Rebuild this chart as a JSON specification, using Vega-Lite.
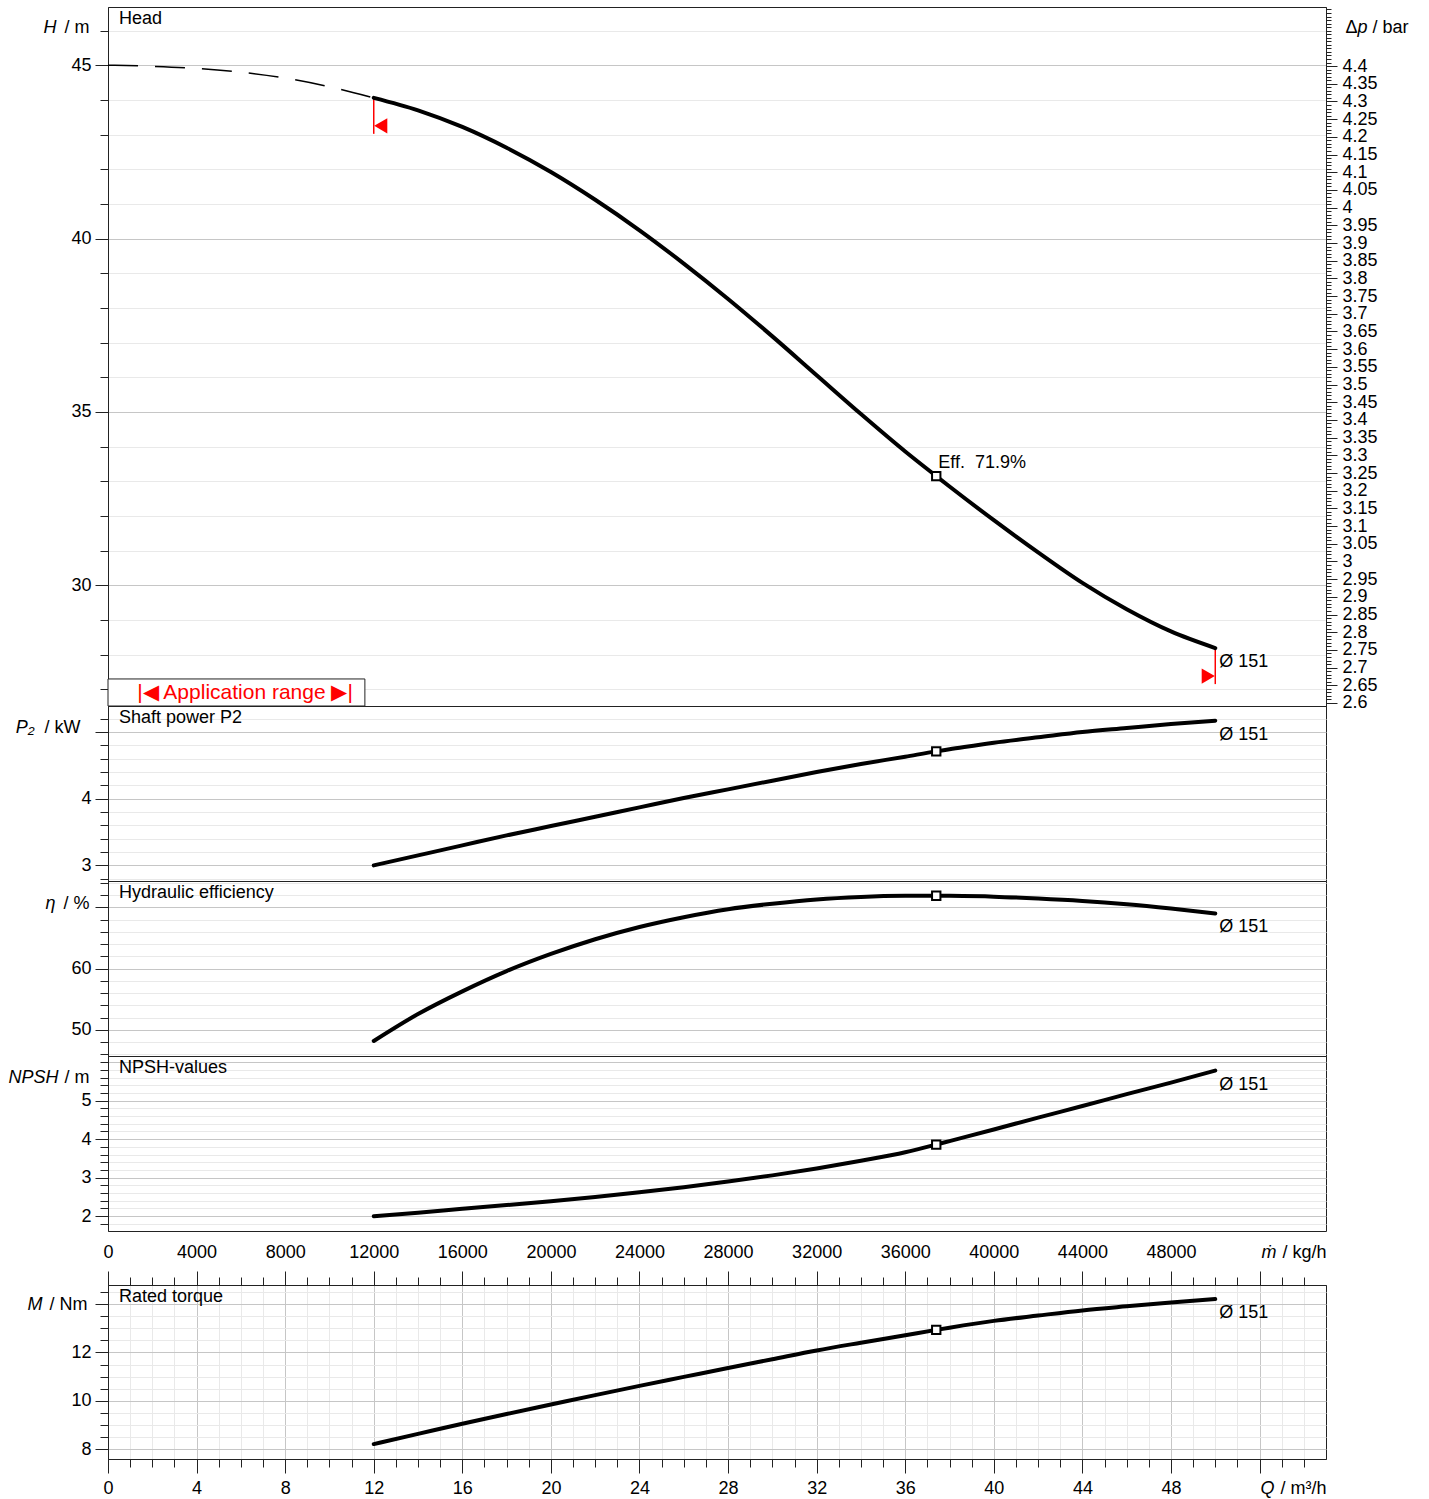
{
  "$schema": "https://vega.github.io/schema/vega-lite/v6.json",
  "background": "#ffffff",
  "padding": {"left": 7, "top": 6, "right": 5, "bottom": 0},
  "autosize": {"type": "pad"},
  "datasets": {
    "ext": [
      {"Q": 0, "H": 45.0}, {"Q": 2, "H": 44.97}, {"Q": 4, "H": 44.91}, {"Q": 6, "H": 44.8},
      {"Q": 8, "H": 44.63}, {"Q": 10, "H": 44.38}, {"Q": 12, "H": 44.06}
    ],
    "curve": [
      {"Q": 12, "H": 44.06, "P2": 3.0, "eta": 48.2, "NPSH": 2.0, "M": 8.22},
      {"Q": 14, "H": 43.7, "P2": 3.15, "eta": 52.6, "NPSH": 2.09, "M": 8.64},
      {"Q": 16, "H": 43.22, "P2": 3.3, "eta": 56.3, "NPSH": 2.19, "M": 9.06},
      {"Q": 18, "H": 42.62, "P2": 3.45, "eta": 59.6, "NPSH": 2.29, "M": 9.46},
      {"Q": 20, "H": 41.92, "P2": 3.59, "eta": 62.4, "NPSH": 2.39, "M": 9.85},
      {"Q": 22, "H": 41.12, "P2": 3.73, "eta": 64.8, "NPSH": 2.5, "M": 10.24},
      {"Q": 24, "H": 40.24, "P2": 3.87, "eta": 66.8, "NPSH": 2.62, "M": 10.62},
      {"Q": 26, "H": 39.28, "P2": 4.01, "eta": 68.4, "NPSH": 2.75, "M": 10.99},
      {"Q": 28, "H": 38.26, "P2": 4.14, "eta": 69.7, "NPSH": 2.9, "M": 11.36},
      {"Q": 30, "H": 37.18, "P2": 4.27, "eta": 70.6, "NPSH": 3.06, "M": 11.72},
      {"Q": 32, "H": 36.06, "P2": 4.4, "eta": 71.3, "NPSH": 3.24, "M": 12.08},
      {"Q": 34, "H": 34.94, "P2": 4.52, "eta": 71.7, "NPSH": 3.44, "M": 12.4},
      {"Q": 36, "H": 33.86, "P2": 4.63, "eta": 71.88, "NPSH": 3.66, "M": 12.71},
      {"Q": 37.4, "H": 33.15, "P2": 4.71, "eta": 71.9, "NPSH": 3.86, "M": 12.93},
      {"Q": 38, "H": 32.85, "P2": 4.74, "eta": 71.88, "NPSH": 3.95, "M": 13.02},
      {"Q": 40, "H": 31.88, "P2": 4.84, "eta": 71.75, "NPSH": 4.25, "M": 13.3},
      {"Q": 42, "H": 30.95, "P2": 4.92, "eta": 71.45, "NPSH": 4.56, "M": 13.52},
      {"Q": 44, "H": 30.07, "P2": 5.0, "eta": 71.05, "NPSH": 4.86, "M": 13.73},
      {"Q": 46, "H": 29.31, "P2": 5.06, "eta": 70.5, "NPSH": 5.17, "M": 13.9},
      {"Q": 48, "H": 28.67, "P2": 5.12, "eta": 69.8, "NPSH": 5.47, "M": 14.06},
      {"Q": 50, "H": 28.19, "P2": 5.17, "eta": 69.0, "NPSH": 5.78, "M": 14.2}
    ],
    "bep": [
      {"Q": 37.4, "H": 33.15, "P2": 4.71, "eta": 71.9, "NPSH": 3.86, "M": 12.93}
    ]
  },
  "spacing": 0,
  "bounds": "flush",
  "vconcat": [
    {
      "width": 1218,
      "height": 699,
      "layer": [
        {
          "layer": [
            {
              "data": {"name": "ext"},
              "mark": {"type": "line", "color": "#000", "strokeWidth": 1.5, "strokeDash": [30, 17], "interpolate": "monotone"},
              "encoding": {
                "x": {"field": "Q", "type": "quantitative", "scale": {"domain": [0, 55], "nice": false, "zero": false},
                  "axis": {"values": [1,2,3,4,5,6,7,8,9,10,11,12,13,14,15,16,17,18,19,20,21,22,23,24,25,26,27,28,29,30,31,32,33,34,35,36,37,38,39,40,41,42,43,44,45,46,47,48,49,50,51,52,53,54],
                    "grid": true, "gridColor": {"condition": {"test": "datum.value % 4 == 0", "value": "#c6c6c6"}, "value": "#e9e9e9"},
                    "ticks": false, "labels": false, "domain": false, "title": null}},
                "y": {"field": "H", "type": "quantitative", "scale": {"domain": [26.52, 46.68], "nice": false, "zero": false},
                  "axis": {"orient": "left", "values": [27,28,29,30,31,32,33,34,35,36,37,38,39,40,41,42,43,44,45,46],
                    "grid": true, "gridColor": {"condition": {"test": "datum.value % 5 == 0", "value": "#c6c6c6"}, "value": "#e9e9e9"},
                    "tickSize": {"condition": {"test": "datum.value % 5 == 0", "value": 13}, "value": 8},
                    "labelExpr": "datum.value % 5 == 0 ? datum.label : ''", "labelPadding": 4,
                    "title": "/ m", "titleX": -19, "titleY": 20, "titleAlign": "right", "titleBaseline": "middle", "titleAngle": 0}}
              }
            },
            {
              "data": {"name": "curve"},
              "transform": [{"filter": "datum.Q == 12 || datum.Q == 50"}],
              "mark": {"type": "rule", "color": "#ff0000", "strokeWidth": 1.5, "y2Offset": 36},
              "encoding": {
                "x": {"field": "Q", "type": "quantitative", "axis": null},
                "y": {"field": "H", "type": "quantitative", "axis": null},
                "y2": {"field": "H"}
              }
            },
            {
              "data": {"name": "curve"},
              "mark": {"type": "line", "color": "#000", "strokeWidth": 4, "interpolate": "monotone", "strokeCap": "round"},
              "encoding": {
                "x": {"field": "Q", "type": "quantitative", "axis": null},
                "y": {"field": "H", "type": "quantitative", "axis": null}
              }
            },
            {
              "data": {"name": "curve"},
              "transform": [{"filter": "datum.Q == 12"}],
              "mark": {"type": "point", "shape": "triangle-left", "filled": true, "color": "#ff0000", "opacity": 1, "size": 230, "xOffset": 7, "yOffset": 28},
              "encoding": {
                "x": {"field": "Q", "type": "quantitative", "axis": null},
                "y": {"field": "H", "type": "quantitative", "axis": null}
              }
            },
            {
              "data": {"name": "curve"},
              "transform": [{"filter": "datum.Q == 50"}],
              "mark": {"type": "point", "shape": "triangle-right", "filled": true, "color": "#ff0000", "opacity": 1, "size": 230, "xOffset": -7, "yOffset": 28},
              "encoding": {
                "x": {"field": "Q", "type": "quantitative", "axis": null},
                "y": {"field": "H", "type": "quantitative", "axis": null}
              }
            },
            {
              "data": {"name": "bep"},
              "mark": {"type": "point", "shape": "square", "filled": true, "fill": "#ffffff", "stroke": "#000", "strokeWidth": 2, "size": 70, "opacity": 1},
              "encoding": {
                "x": {"field": "Q", "type": "quantitative", "axis": null},
                "y": {"field": "H", "type": "quantitative",
                  "axis": {"orient": "left", "domain": false, "ticks": false, "labels": false, "grid": false,
                    "title": "H", "titleFontStyle": "italic", "titleX": -52, "titleY": 20, "titleAlign": "right", "titleBaseline": "middle", "titleAngle": 0}}
              }
            },
            {
              "data": {"name": "bep"},
              "mark": {"type": "text", "align": "left", "baseline": "middle", "dx": 2, "dy": -13, "text": "Eff.\u00a0\u00a071.9%"},
              "encoding": {
                "x": {"field": "Q", "type": "quantitative", "axis": null},
                "y": {"field": "H", "type": "quantitative", "axis": null}
              }
            },
            {
              "data": {"name": "curve"},
              "transform": [{"filter": "datum.Q == 50"}],
              "mark": {"type": "text", "align": "left", "baseline": "middle", "dx": 4, "dy": 14, "text": "Ø 151"},
              "encoding": {
                "x": {"field": "Q", "type": "quantitative", "axis": null},
                "y": {"field": "H", "type": "quantitative", "axis": null}
              }
            },
            {
              "data": {"values": [{}]},
              "mark": {"type": "rect", "fill": "#ffffff", "stroke": "#222", "strokeWidth": 1},
              "encoding": {
                "x": {"datum": 0, "type": "quantitative", "axis": null},
                "x2": {"datum": 11.6},
                "y": {"datum": 26.52, "type": "quantitative", "axis": null},
                "y2": {"datum": 27.3}
              }
            },
            {
              "data": {"values": [{}]},
              "mark": {"type": "text", "align": "center", "baseline": "alphabetic", "fontSize": 21, "color": "#ff0000", "text": "|◀ Application range ▶|"},
              "encoding": {
                "x": {"datum": 6.19, "type": "quantitative", "axis": null},
                "y": {"datum": 26.72, "type": "quantitative", "axis": null}
              }
            },
            {
              "data": {"values": [{}]},
              "mark": {"type": "text", "align": "left", "baseline": "middle", "dx": 11, "dy": 12, "text": "Head"},
              "encoding": {
                "x": {"datum": 0, "type": "quantitative", "axis": null},
                "y": {"datum": 46.68, "type": "quantitative", "axis": null}
              }
            }
          ],
          "resolve": {"axis": {"y": "independent"}}
        },
        {
          "layer": [
            {
              "data": {"values": [{}]},
              "mark": {"type": "rule", "opacity": 0},
              "encoding": {
                "y": {"datum": 3.5, "type": "quantitative", "scale": {"domain": [2.5915, 4.567], "nice": false, "zero": false},
                  "axis": {"orient": "right", "grid": false,
                    "values": [2.6,2.65,2.7,2.75,2.8,2.85,2.9,2.95,3,3.05,3.1,3.15,3.2,3.25,3.3,3.35,3.4,3.45,3.5,3.55,3.6,3.65,3.7,3.75,3.8,3.85,3.9,3.95,4,4.05,4.1,4.15,4.2,4.25,4.3,4.35,4.4],
                    "tickSize": 11,
                    "labelExpr": "format(datum.value, '.2~f')",
                    "labelPadding": 5,
                    "title": "/ bar", "titleX": 46, "titleY": 20, "titleAlign": "left", "titleBaseline": "middle", "titleAngle": 0}}
              }
            },
            {
              "data": {"values": [{}]},
              "mark": {"type": "rule", "opacity": 0},
              "encoding": {
                "y": {"datum": 3.5, "type": "quantitative", "scale": {"domain": [2.5915, 4.567], "nice": false, "zero": false},
                  "axis": {"orient": "right", "domain": false, "labels": false, "grid": false, "ticks": true, "tickSize": 5,
                    "values": [2.6,2.61,2.62,2.63,2.64,2.65,2.66,2.67,2.68,2.69,2.7,2.71,2.72,2.73,2.74,2.75,2.76,2.77,2.78,2.79,2.8,2.81,2.82,2.83,2.84,2.85,2.86,2.87,2.88,2.89,2.9,2.91,2.92,2.93,2.94,2.95,2.96,2.97,2.98,2.99,3,3.01,3.02,3.03,3.04,3.05,3.06,3.07,3.08,3.09,3.1,3.11,3.12,3.13,3.14,3.15,3.16,3.17,3.18,3.19,3.2,3.21,3.22,3.23,3.24,3.25,3.26,3.27,3.28,3.29,3.3,3.31,3.32,3.33,3.34,3.35,3.36,3.37,3.38,3.39,3.4,3.41,3.42,3.43,3.44,3.45,3.46,3.47,3.48,3.49,3.5,3.51,3.52,3.53,3.54,3.55,3.56,3.57,3.58,3.59,3.6,3.61,3.62,3.63,3.64,3.65,3.66,3.67,3.68,3.69,3.7,3.71,3.72,3.73,3.74,3.75,3.76,3.77,3.78,3.79,3.8,3.81,3.82,3.83,3.84,3.85,3.86,3.87,3.88,3.89,3.9,3.91,3.92,3.93,3.94,3.95,3.96,3.97,3.98,3.99,4,4.01,4.02,4.03,4.04,4.05,4.06,4.07,4.08,4.09,4.1,4.11,4.12,4.13,4.14,4.15,4.16,4.17,4.18,4.19,4.2,4.21,4.22,4.23,4.24,4.25,4.26,4.27,4.28,4.29,4.3,4.31,4.32,4.33,4.34,4.35,4.36,4.37,4.38,4.39,4.4,4.41,4.42,4.43,4.44,4.45,4.46,4.47,4.48,4.49,4.5,4.51,4.52,4.53,4.54,4.55,4.56],
                    "title": "p", "titleFontStyle": "italic", "titleX": 31, "titleY": 20, "titleAlign": "left", "titleBaseline": "middle", "titleAngle": 0}}
              }
            },
            {
              "data": {"values": [{}]},
              "mark": {"type": "rule", "opacity": 0},
              "encoding": {
                "y": {"datum": 3.5, "type": "quantitative", "scale": {"domain": [2.5915, 4.567], "nice": false, "zero": false},
                  "axis": {"orient": "right", "domain": false, "labels": false, "grid": false, "ticks": false,
                    "title": "Δ", "titleX": 19, "titleY": 20, "titleAlign": "left", "titleBaseline": "middle", "titleAngle": 0}}
              }
            }
          ],
          "resolve": {"axis": {"y": "independent"}}
        }
      ],
      "resolve": {"scale": {"y": "independent"}}
    },
    {
      "width": 1218,
      "height": 175,
      "layer": [
        {
          "data": {"name": "curve"},
          "mark": {"type": "line", "color": "#000", "strokeWidth": 4, "interpolate": "monotone", "strokeCap": "round"},
          "encoding": {
            "x": {"field": "Q", "type": "quantitative", "scale": {"domain": [0, 55], "nice": false, "zero": false},
              "axis": {"values": [1,2,3,4,5,6,7,8,9,10,11,12,13,14,15,16,17,18,19,20,21,22,23,24,25,26,27,28,29,30,31,32,33,34,35,36,37,38,39,40,41,42,43,44,45,46,47,48,49,50,51,52,53,54],
                "grid": true, "gridColor": {"condition": {"test": "datum.value % 4 == 0", "value": "#c6c6c6"}, "value": "#e9e9e9"},
                "ticks": false, "labels": false, "domain": false, "title": null}},
            "y": {"field": "P2", "type": "quantitative", "scale": {"domain": [2.766, 5.39], "nice": false, "zero": false},
              "axis": {"orient": "left", "values": [2.8,3,3.2,3.4,3.6,3.8,4,4.2,4.4,4.6,4.8,5,5.2],
                "grid": true, "gridColor": {"condition": {"test": "abs(datum.value - round(datum.value)) < 0.001", "value": "#c6c6c6"}, "value": "#e9e9e9"},
                "tickSize": {"condition": {"test": "abs(datum.value - round(datum.value)) < 0.001", "value": 13}, "value": 8},
                "labelExpr": "abs(datum.value - round(datum.value)) < 0.001 && datum.value < 4.5 ? format(datum.value, 'd') : ''", "labelPadding": 4,
                "title": "/ kW", "titleX": -28, "titleY": 21, "titleAlign": "right", "titleBaseline": "middle", "titleAngle": 0}}
          }
        },
        {
          "data": {"name": "bep"},
          "mark": {"type": "point", "shape": "square", "filled": true, "fill": "#ffffff", "stroke": "#000", "strokeWidth": 2, "size": 70, "opacity": 1},
          "encoding": {
            "x": {"field": "Q", "type": "quantitative", "axis": null},
            "y": {"field": "P2", "type": "quantitative",
              "axis": {"orient": "left", "domain": false, "ticks": false, "labels": false, "grid": false,
                "title": "P₂", "titleFontStyle": "italic", "titleX": -74, "titleY": 21, "titleAlign": "right", "titleBaseline": "middle", "titleAngle": 0}}
          }
        },
        {
          "data": {"name": "curve"},
          "transform": [{"filter": "datum.Q == 50"}],
          "mark": {"type": "text", "align": "left", "baseline": "middle", "dx": 4, "dy": 14, "text": "Ø 151"},
          "encoding": {
            "x": {"field": "Q", "type": "quantitative", "axis": null},
            "y": {"field": "P2", "type": "quantitative", "axis": null}
          }
        },
        {
          "data": {"values": [{}]},
          "mark": {"type": "text", "align": "left", "baseline": "middle", "dx": 11, "dy": 12, "text": "Shaft power P2"},
          "encoding": {
            "x": {"datum": 0, "type": "quantitative", "axis": null},
            "y": {"datum": 5.39, "type": "quantitative", "axis": null}
          }
        }
      ],
      "resolve": {"axis": {"y": "independent"}}
    },
    {
      "width": 1218,
      "height": 175,
      "layer": [
        {
          "data": {"name": "curve"},
          "mark": {"type": "line", "color": "#000", "strokeWidth": 4, "interpolate": "monotone", "strokeCap": "round"},
          "encoding": {
            "x": {"field": "Q", "type": "quantitative", "scale": {"domain": [0, 55], "nice": false, "zero": false},
              "axis": {"values": [1,2,3,4,5,6,7,8,9,10,11,12,13,14,15,16,17,18,19,20,21,22,23,24,25,26,27,28,29,30,31,32,33,34,35,36,37,38,39,40,41,42,43,44,45,46,47,48,49,50,51,52,53,54],
                "grid": true, "gridColor": {"condition": {"test": "datum.value % 4 == 0", "value": "#c6c6c6"}, "value": "#e9e9e9"},
                "ticks": false, "labels": false, "domain": false, "title": null}},
            "y": {"field": "eta", "type": "quantitative", "scale": {"domain": [45.75, 74.3], "nice": false, "zero": false},
              "axis": {"orient": "left", "values": [46,48,50,52,54,56,58,60,62,64,66,68,70,72,74],
                "grid": true, "gridColor": {"condition": {"test": "datum.value % 10 == 0", "value": "#c6c6c6"}, "value": "#e9e9e9"},
                "tickSize": {"condition": {"test": "datum.value % 10 == 0", "value": 13}, "value": 8},
                "labelExpr": "datum.value % 10 == 0 && datum.value < 65 ? datum.label : ''", "labelPadding": 4,
                "title": "/ %", "titleX": -19, "titleY": 22, "titleAlign": "right", "titleBaseline": "middle", "titleAngle": 0}}
          }
        },
        {
          "data": {"name": "bep"},
          "mark": {"type": "point", "shape": "square", "filled": true, "fill": "#ffffff", "stroke": "#000", "strokeWidth": 2, "size": 70, "opacity": 1},
          "encoding": {
            "x": {"field": "Q", "type": "quantitative", "axis": null},
            "y": {"field": "eta", "type": "quantitative",
              "axis": {"orient": "left", "domain": false, "ticks": false, "labels": false, "grid": false,
                "title": "η", "titleFontStyle": "italic", "titleX": -53, "titleY": 22, "titleAlign": "right", "titleBaseline": "middle", "titleAngle": 0}}
          }
        },
        {
          "data": {"name": "curve"},
          "transform": [{"filter": "datum.Q == 50"}],
          "mark": {"type": "text", "align": "left", "baseline": "middle", "dx": 4, "dy": 14, "text": "Ø 151"},
          "encoding": {
            "x": {"field": "Q", "type": "quantitative", "axis": null},
            "y": {"field": "eta", "type": "quantitative", "axis": null}
          }
        },
        {
          "data": {"values": [{}]},
          "mark": {"type": "text", "align": "left", "baseline": "middle", "dx": 11, "dy": 12, "text": "Hydraulic efficiency"},
          "encoding": {
            "x": {"datum": 0, "type": "quantitative", "axis": null},
            "y": {"datum": 74.3, "type": "quantitative", "axis": null}
          }
        }
      ],
      "resolve": {"axis": {"y": "independent"}}
    },
    {
      "width": 1218,
      "height": 175,
      "layer": [
        {
          "data": {"name": "curve"},
          "mark": {"type": "line", "color": "#000", "strokeWidth": 4, "interpolate": "monotone", "strokeCap": "round"},
          "encoding": {
            "x": {"field": "Q", "type": "quantitative", "scale": {"domain": [0, 55], "nice": false, "zero": false},
              "axis": {"values": [1,2,3,4,5,6,7,8,9,10,11,12,13,14,15,16,17,18,19,20,21,22,23,24,25,26,27,28,29,30,31,32,33,34,35,36,37,38,39,40,41,42,43,44,45,46,47,48,49,50,51,52,53,54],
                "grid": true, "gridColor": {"condition": {"test": "datum.value % 4 == 0", "value": "#c6c6c6"}, "value": "#e9e9e9"},
                "ticks": false, "labels": false, "domain": false, "title": null}},
            "y": {"field": "NPSH", "type": "quantitative", "scale": {"domain": [1.615, 6.16], "nice": false, "zero": false},
              "axis": {"orient": "left", "values": [1.8,2,2.2,2.4,2.6,2.8,3,3.2,3.4,3.6,3.8,4,4.2,4.4,4.6,4.8,5,5.2,5.4,5.6,5.8,6],
                "grid": true, "gridColor": {"condition": {"test": "abs(datum.value - round(datum.value)) < 0.001", "value": "#c6c6c6"}, "value": "#e9e9e9"},
                "tickSize": {"condition": {"test": "abs(datum.value - round(datum.value)) < 0.001 && datum.value < 5.5", "value": 13}, "value": 8},
                "labelExpr": "abs(datum.value - round(datum.value)) < 0.001 && datum.value < 5.5 ? format(datum.value, 'd') : ''", "labelPadding": 4,
                "title": "/ m", "titleX": -19, "titleY": 21, "titleAlign": "right", "titleBaseline": "middle", "titleAngle": 0}}
          }
        },
        {
          "data": {"name": "bep"},
          "mark": {"type": "point", "shape": "square", "filled": true, "fill": "#ffffff", "stroke": "#000", "strokeWidth": 2, "size": 70, "opacity": 1},
          "encoding": {
            "x": {"field": "Q", "type": "quantitative", "axis": null},
            "y": {"field": "NPSH", "type": "quantitative",
              "axis": {"orient": "left", "domain": false, "ticks": false, "labels": false, "grid": false,
                "title": "NPSH", "titleFontStyle": "italic", "titleX": -50, "titleY": 21, "titleAlign": "right", "titleBaseline": "middle", "titleAngle": 0}}
          }
        },
        {
          "data": {"name": "curve"},
          "transform": [{"filter": "datum.Q == 50"}],
          "mark": {"type": "text", "align": "left", "baseline": "middle", "dx": 4, "dy": 14, "text": "Ø 151"},
          "encoding": {
            "x": {"field": "Q", "type": "quantitative", "axis": null},
            "y": {"field": "NPSH", "type": "quantitative", "axis": null}
          }
        },
        {
          "data": {"values": [{}]},
          "mark": {"type": "text", "align": "left", "baseline": "middle", "dx": 11, "dy": 12, "text": "NPSH-values"},
          "encoding": {
            "x": {"datum": 0, "type": "quantitative", "axis": null},
            "y": {"datum": 6.16, "type": "quantitative", "axis": null}
          }
        }
      ],
      "resolve": {"axis": {"y": "independent"}}
    },
    {
      "width": 1218,
      "height": 54,
      "data": {"values": []},
      "mark": "point",
      "view": {"stroke": null}
    },
    {
      "width": 1218,
      "height": 174,
      "layer": [
        {
          "data": {"name": "curve"},
          "mark": {"type": "line", "color": "#000", "strokeWidth": 4, "interpolate": "monotone", "strokeCap": "round"},
          "encoding": {
            "x": {"field": "Q", "type": "quantitative", "scale": {"domain": [0, 55], "nice": false, "zero": false},
              "axis": {"orient": "bottom", "grid": false,
                "values": [0,1,2,3,4,5,6,7,8,9,10,11,12,13,14,15,16,17,18,19,20,21,22,23,24,25,26,27,28,29,30,31,32,33,34,35,36,37,38,39,40,41,42,43,44,45,46,47,48,49,50,51,52,53,54],
                "tickSize": {"condition": {"test": "datum.value % 4 == 0", "value": 14}, "value": 8},
                "labelExpr": "datum.value % 4 == 0 && datum.value <= 48 ? datum.label : ''",
                "labelBaseline": "middle", "labelPadding": 15,
                "title": "/ m³/h", "titleX": 1218, "titleY": 29, "titleAlign": "right", "titleBaseline": "middle", "titleAngle": 0}},
            "y": {"field": "M", "type": "quantitative", "scale": {"domain": [7.605, 14.78], "nice": false, "zero": false},
              "axis": {"orient": "left", "values": [8,8.5,9,9.5,10,10.5,11,11.5,12,12.5,13,13.5,14,14.5],
                "grid": true, "gridColor": {"condition": {"test": "datum.value % 2 == 0", "value": "#c6c6c6"}, "value": "#e9e9e9"},
                "tickSize": {"condition": {"test": "datum.value % 2 == 0", "value": 13}, "value": 8},
                "labelExpr": "datum.value % 2 == 0 && datum.value < 13 ? format(datum.value, 'd') : ''", "labelPadding": 4,
                "title": "/ Nm", "titleX": -21, "titleY": 19, "titleAlign": "right", "titleBaseline": "middle", "titleAngle": 0}}
          }
        },
        {
          "data": {"name": "bep"},
          "mark": {"type": "point", "shape": "square", "filled": true, "fill": "#ffffff", "stroke": "#000", "strokeWidth": 2, "size": 70, "opacity": 1},
          "encoding": {
            "x": {"field": "Q", "type": "quantitative",
              "axis": {"orient": "top", "grid": true,
                "values": [0,1,2,3,4,5,6,7,8,9,10,11,12,13,14,15,16,17,18,19,20,21,22,23,24,25,26,27,28,29,30,31,32,33,34,35,36,37,38,39,40,41,42,43,44,45,46,47,48,49,50,51,52,53,54],
                "gridColor": {"condition": {"test": "datum.value % 4 == 0", "value": "#c6c6c6"}, "value": "#e9e9e9"},
                "gridOpacity": {"condition": {"test": "datum.value == 0", "value": 0}, "value": 1},
                "tickSize": {"condition": {"test": "datum.value % 4 == 0", "value": 14}, "value": 8},
                "labelExpr": "datum.value % 4 == 0 && datum.value <= 48 ? format(datum.value * 1000, 'd') : ''",
                "labelBaseline": "middle", "labelPadding": 19,
                "title": "/ kg/h", "titleX": 1218, "titleY": -33, "titleAlign": "right", "titleBaseline": "middle", "titleAngle": 0}},
            "y": {"field": "M", "type": "quantitative",
              "axis": {"orient": "left", "domain": false, "ticks": false, "labels": false, "grid": false,
                "title": "M", "titleFontStyle": "italic", "titleX": -66, "titleY": 19, "titleAlign": "right", "titleBaseline": "middle", "titleAngle": 0}}
          }
        },
        {
          "data": {"name": "curve"},
          "transform": [{"filter": "datum.Q == 50"}],
          "mark": {"type": "text", "align": "left", "baseline": "middle", "dx": 4, "dy": 14, "text": "Ø 151"},
          "encoding": {
            "x": {"field": "Q", "type": "quantitative",
              "axis": {"orient": "bottom", "domain": false, "ticks": false, "labels": false, "grid": false,
                "title": "Q", "titleFontStyle": "italic", "titleX": 1166, "titleY": 29, "titleAlign": "right", "titleBaseline": "middle", "titleAngle": 0}},
            "y": {"field": "M", "type": "quantitative", "axis": null}
          }
        },
        {
          "data": {"values": [{}]},
          "mark": {"type": "text", "align": "left", "baseline": "middle", "dx": 11, "dy": 12, "text": "Rated torque"},
          "encoding": {
            "x": {"datum": 0, "type": "quantitative",
              "axis": {"orient": "top", "domain": false, "ticks": false, "labels": false, "grid": false,
                "title": "ṁ", "titleFontStyle": "italic", "titleX": 1168, "titleY": -33, "titleAlign": "right", "titleBaseline": "middle", "titleAngle": 0}},
            "y": {"datum": 14.78, "type": "quantitative", "axis": null}
          }
        }
      ],
      "resolve": {"axis": {"x": "independent", "y": "independent"}}
    }
  ],
  "config": {
    "font": "Liberation Sans",
    "view": {"stroke": "#222", "strokeWidth": 1},
    "axis": {
      "labelFont": "Liberation Sans", "titleFont": "Liberation Sans",
      "labelFontSize": 18, "titleFontSize": 18, "titleFontWeight": "normal",
      "labelColor": "#000", "titleColor": "#000",
      "domainColor": "#222", "tickColor": "#222",
      "domainWidth": 1, "tickWidth": 1, "gridWidth": 1,
      "labelOverlap": false, "labelFlush": false
    },
    "text": {"font": "Liberation Sans", "fontSize": 18, "color": "#000"}
  }
}
